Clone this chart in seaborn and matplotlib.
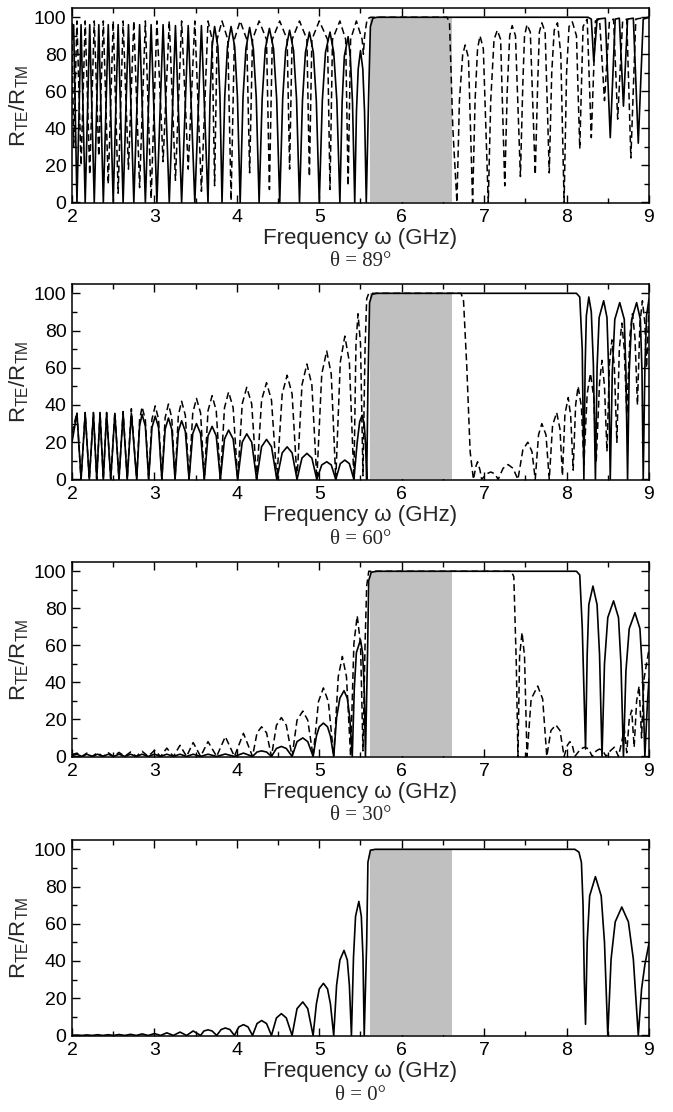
import matplotlib
matplotlib.use("Agg")
import matplotlib.pyplot as plt
from matplotlib.ticker import MultipleLocator
import pandas as pd
import seaborn as sns

# ---------------- data (frequency GHz, R_TE/R_TM) ----------------
theta89_solid = [
    (2.00, 90), (2.02, 96), (2.06, 0), (2.11, 96), (2.16, 0), (2.215, 96), (2.27, 0), (2.325, 96),
    (2.38, 0), (2.44, 96), (2.50, 0), (2.56, 96), (2.62, 0), (2.685, 96), (2.75, 0), (2.82, 96),
    (2.89, 0), (2.96, 96), (3.03, 0), (3.105, 96), (3.18, 0), (3.255, 95.5), (3.33, 0), (3.41, 95.5),
    (3.49, 0), (3.57, 95.5), (3.65, 0),
    (3.675, 57), (3.70, 84), (3.73, 95), (3.77, 84), (3.795, 57), (3.82, 0),
    (3.853, 57), (3.886, 84), (3.93, 95), (3.974, 84), (4.007, 57), (4.04, 0),
    (4.075, 57), (4.11, 83), (4.155, 94.5), (4.20, 83), (4.235, 57), (4.27, 0),
    (4.307, 56), (4.345, 83), (4.395, 94), (4.445, 83), (4.483, 56), (4.52, 0),
    (4.556, 56), (4.592, 82), (4.64, 93), (4.688, 82), (4.724, 56), (4.76, 0),
    (4.796, 55), (4.832, 81), (4.88, 92), (4.928, 81), (4.964, 55), (5.00, 0),
    (5.037, 55), (5.075, 81), (5.13, 92), (5.175, 81), (5.213, 55), (5.25, 0),
    (5.277, 54), (5.304, 79), (5.35, 89.5), (5.376, 79), (5.403, 54), (5.43, 0),
    (5.451, 49), (5.472, 72), (5.50, 82), (5.528, 72), (5.549, 49), (5.57, 0),
    (5.60, 60), (5.62, 95), (5.65, 99.5), (5.70, 100), (8.26, 100), (8.30, 99), (8.33, 76), (8.37, 99),
    (8.47, 99.5), (8.53, 35), (8.59, 99), (8.64, 99.5), (8.69, 52), (8.74, 99), (8.81, 99.5),
    (8.87, 32), (8.93, 99), (9.00, 100),
]
theta89_dashed = [
    (2.00, 97), (2.02, 30), (2.06, 98), (2.11, 20), (2.16, 98), (2.215, 15), (2.27, 98), (2.325, 25),
    (2.38, 98), (2.44, 10), (2.50, 98), (2.56, 5), (2.62, 98), (2.685, 18), (2.75, 98), (2.82, 8),
    (2.89, 98), (2.96, 2), (3.03, 98), (3.105, 22), (3.18, 98), (3.255, 12), (3.33, 98), (3.41, 18),
    (3.49, 98), (3.57, 6), (3.65, 98), (3.70, 88), (3.73, 9), (3.76, 88), (3.82, 98),
    (3.89, 88), (3.93, 1), (3.97, 88), (4.04, 98), (4.12, 88), (4.155, 16), (4.19, 88), (4.27, 98),
    (4.36, 88), (4.395, 7), (4.43, 88), (4.52, 98), (4.61, 88), (4.64, 18), (4.67, 88), (4.76, 98),
    (4.85, 88), (4.88, 14), (4.91, 88), (5.00, 98), (5.10, 88), (5.13, 7), (5.16, 88), (5.25, 98),
    (5.32, 88), (5.35, 9), (5.38, 88), (5.45, 98), (5.52, 88), (5.535, 80), (5.55, 90), (5.58, 99),
    (5.62, 100), (6.55, 100), (6.58, 97), (6.62, 40), (6.67, 0),
    (6.70, 55), (6.74, 80), (6.77, 85), (6.81, 78), (6.86, 0), (6.89, 55), (6.92, 83), (6.95, 90),
    (6.99, 83), (7.05, 0), (7.08, 55), (7.12, 88), (7.16, 93), (7.20, 88), (7.25, 9), (7.28, 60),
    (7.31, 90), (7.34, 95.5), (7.38, 90), (7.44, 14), (7.47, 65), (7.49, 90), (7.52, 96), (7.56, 92),
    (7.62, 15), (7.65, 65), (7.67, 92), (7.70, 97), (7.74, 92), (7.79, 16), (7.82, 70), (7.85, 93),
    (7.89, 97), (7.93, 80), (7.97, 0), (8.00, 70), (8.03, 95), (8.07, 97.5), (8.12, 90), (8.16, 29),
    (8.20, 95), (8.25, 99), (8.30, 35), (8.35, 98), (8.40, 99), (8.46, 55), (8.52, 98), (8.57, 99),
    (8.62, 45), (8.68, 98), (8.73, 99), (8.78, 24), (8.84, 99), (8.90, 99.5), (9.00, 100),
]

theta60_solid = [
    (2.00, 20), (2.06, 35.5), (2.11, 0), (2.16, 35.5), (2.21, 0), (2.26, 35.5), (2.30, 0), (2.34, 35.5),
    (2.38, 0), (2.42, 35.5), (2.47, 0), (2.52, 35.5), (2.57, 0), (2.62, 35.5), (2.67, 0), (2.72, 35.5),
    (2.785, 0), (2.82, 28.7), (2.85, 35), (2.89, 28.7), (2.93, 0), (2.97, 27.9), (3.01, 34),
    (3.05, 27.9), (3.09, 0), (3.13, 27), (3.17, 33), (3.21, 27), (3.25, 0), (3.29, 25.8),
    (3.33, 31.5), (3.375, 25.8), (3.42, 0), (3.465, 24.6), (3.51, 30), (3.56, 24.6), (3.605, 0),
    (3.65, 23.4), (3.70, 28.5), (3.75, 23.4), (3.80, 0), (3.85, 21.7), (3.90, 26.5), (3.955, 21.7),
    (4.01, 0), (4.065, 20), (4.12, 24.5), (4.18, 20), (4.24, 0), (4.30, 17.6), (4.36, 21.5),
    (4.42, 17.6), (4.485, 0), (4.55, 14.3), (4.61, 17.5), (4.67, 14.3), (4.73, 0), (4.79, 11.5),
    (4.85, 14), (4.91, 11.5), (4.97, 0), (5.03, 7.8), (5.09, 9.5), (5.145, 7.8), (5.20, 0),
    (5.255, 8.5), (5.31, 10.4), (5.365, 8.5), (5.42, 0), (5.46, 20), (5.49, 31), (5.52, 34.5),
    (5.545, 30), (5.562, 18), (5.575, 0), (5.59, 50), (5.61, 95), (5.64, 99.5), (5.70, 100),
    (8.12, 100), (8.16, 98), (8.19, 70), (8.21, 0),
    (8.225, 60), (8.24, 88), (8.27, 98), (8.30, 90), (8.325, 62), (8.35, 0),
    (8.37, 60), (8.395, 87), (8.45, 96), (8.49, 87), (8.51, 60), (8.53, 0),
    (8.555, 58), (8.585, 86), (8.645, 95), (8.70, 86), (8.72, 58), (8.74, 0),
    (8.76, 58), (8.79, 86), (8.85, 95), (8.895, 86), (8.915, 58), (8.93, 0),
    (8.95, 60), (8.97, 88), (9.00, 97),
]
theta60_dashed = [
    (2.00, 25), (2.06, 36), (2.11, 0), (2.16, 36), (2.21, 0), (2.26, 36), (2.30, 0), (2.34, 36),
    (2.38, 0), (2.42, 36), (2.47, 0), (2.52, 36), (2.57, 0), (2.62, 36.5), (2.67, 0), (2.72, 38),
    (2.785, 0), (2.82, 32), (2.85, 39), (2.89, 32), (2.93, 0), (2.97, 32.4), (3.01, 39.5), (3.05, 32.4),
    (3.09, 0), (3.13, 33.2), (3.17, 40.5), (3.21, 33.2), (3.25, 0), (3.29, 34.4), (3.33, 42),
    (3.375, 34.4), (3.42, 0), (3.465, 35.7), (3.51, 43.5), (3.56, 35.7), (3.605, 0), (3.65, 36.9),
    (3.70, 45), (3.75, 36.9), (3.80, 0), (3.85, 38.5), (3.90, 47), (3.955, 38.5), (4.01, 0),
    (4.065, 40.6), (4.12, 49.5), (4.18, 40.6), (4.24, 0), (4.30, 42.6), (4.36, 52), (4.42, 42.6),
    (4.485, 0), (4.55, 45.9), (4.61, 56), (4.67, 45.9), (4.73, 0), (4.79, 50.8), (4.85, 62),
    (4.91, 50.8), (4.97, 0), (5.03, 56.6), (5.09, 69), (5.145, 56.6), (5.20, 0), (5.255, 63.1),
    (5.31, 77), (5.365, 63.1), (5.42, 0), (5.445, 73), (5.47, 89), (5.50, 73), (5.53, 2),
    (5.555, 70), (5.575, 97), (5.60, 100),
    (6.72, 100), (6.75, 96), (6.79, 60), (6.83, 15), (6.87, 0), (6.90, 7), (6.92, 9.5), (6.95, 5),
    (6.97, 0), (7.03, 3), (7.08, 4), (7.13, 3), (7.17, 0), (7.23, 6), (7.29, 8), (7.35, 6), (7.41, 0),
    (7.47, 16), (7.53, 20), (7.58, 15), (7.62, 0), (7.66, 24), (7.70, 30), (7.75, 24), (7.79, 0),
    (7.83, 29), (7.88, 36), (7.92, 27), (7.95, 2), (7.98, 35), (8.02, 44), (8.05, 34), (8.08, 5),
    (8.11, 40), (8.14, 50), (8.18, 39), (8.21, 8), (8.25, 46), (8.29, 57), (8.33, 44), (8.36, 10),
    (8.40, 52), (8.43, 64), (8.46, 50), (8.49, 15), (8.52, 62), (8.55, 75), (8.58, 60), (8.61, 20),
    (8.64, 70), (8.67, 84), (8.70, 70), (8.73, 35), (8.77, 78), (8.80, 89), (8.83, 76), (8.86, 40),
    (8.89, 84), (8.92, 96), (8.95, 84), (8.97, 60), (9.00, 92),
]

theta30_solid = [
    (2.00, 0.5), (2.06, 1.2), (2.12, 0), (2.18, 1.2), (2.245, 0), (2.31, 1.2), (2.375, 0), (2.44, 1.2),
    (2.505, 0), (2.57, 1.2), (2.64, 0), (2.71, 1.2), (2.78, 0), (2.85, 1.2), (2.925, 0), (3.00, 1.2),
    (3.075, 0), (3.15, 1.2), (3.23, 0), (3.31, 1.2), (3.39, 0), (3.47, 1.2), (3.56, 0), (3.65, 1.2),
    (3.755, 0), (3.86, 1.3), (3.97, 0), (4.08, 1.8), (4.19, 0), (4.245, 2.4), (4.30, 3), (4.36, 2.4),
    (4.42, 0), (4.48, 4.3), (4.54, 5.4), (4.60, 4.3), (4.67, 0), (4.73, 8), (4.80, 10), (4.86, 8),
    (4.925, 0), (4.965, 11), (5.00, 16), (5.05, 18), (5.10, 16), (5.135, 11), (5.175, 0),
    (5.21, 21), (5.25, 31.5), (5.30, 35.5), (5.34, 31.5), (5.37, 21), (5.40, 0),
    (5.425, 37), (5.45, 56), (5.50, 63), (5.525, 56), (5.545, 37), (5.56, 0),
    (5.585, 55), (5.60, 95), (5.63, 99.5), (5.70, 100), (8.12, 100), (8.16, 98), (8.19, 70), (8.23, 4),
    (8.25, 55), (8.27, 82), (8.32, 92), (8.37, 82), (8.40, 55), (8.43, 0),
    (8.46, 50), (8.50, 75), (8.57, 84), (8.63, 75), (8.66, 50), (8.69, 0),
    (8.72, 46), (8.76, 69), (8.83, 77.6), (8.89, 69), (8.92, 46), (8.95, 0),
    (8.98, 28), (9.00, 42),
]
theta30_dashed = [
    (2.00, 1.0), (2.06, 1.8), (2.12, 0), (2.18, 1.8), (2.245, 0), (2.31, 2.0), (2.375, 0), (2.44, 2.0),
    (2.505, 0), (2.57, 2.2), (2.64, 0), (2.71, 2.4), (2.78, 0), (2.85, 2.8), (2.925, 0), (3.00, 3.3),
    (3.075, 0), (3.15, 4.5), (3.23, 0), (3.31, 6), (3.39, 0), (3.47, 7.5), (3.56, 0), (3.65, 8),
    (3.755, 0), (3.86, 10.7), (3.97, 0), (4.08, 12.5), (4.19, 0), (4.245, 12.8), (4.30, 16),
    (4.36, 12.8), (4.42, 0), (4.48, 16.8), (4.54, 21), (4.60, 16.8), (4.67, 0), (4.73, 19.6),
    (4.80, 24.5), (4.86, 19.6), (4.925, 0), (4.99, 29.6), (5.05, 37), (5.11, 29.6), (5.175, 0),
    (5.23, 43), (5.28, 54), (5.33, 43), (5.38, 0), (5.42, 61), (5.46, 76), (5.50, 61), (5.53, 3),
    (5.555, 60), (5.575, 92), (5.60, 100), (7.33, 100), (7.36, 97), (7.39, 50), (7.41, 0),
    (7.43, 54), (7.46, 67), (7.49, 54), (7.52, 0), (7.57, 31), (7.65, 38), (7.71, 31), (7.76, 0),
    (7.81, 14), (7.87, 17), (7.92, 14), (7.97, 0), (8.01, 6), (8.04, 8), (8.07, 6), (8.10, 0),
    (8.17, 4), (8.22, 5), (8.27, 4), (8.31, 0), (8.36, 3), (8.40, 4), (8.44, 3), (8.48, 0), (8.53, 3),
    (8.58, 5), (8.63, 0), (8.67, 8), (8.70, 15), (8.73, 2), (8.76, 20), (8.79, 25), (8.82, 5),
    (8.85, 30), (8.88, 38), (8.91, 10), (8.94, 42), (8.97, 50), (9.00, 58),
]

theta0_solid = [
    (2.00, 0.1), (2.06, 0.2), (2.12, 0), (2.18, 0.3), (2.245, 0), (2.31, 0.4), (2.375, 0), (2.44, 0.4),
    (2.505, 0), (2.57, 0.5), (2.64, 0), (2.71, 0.6), (2.78, 0), (2.85, 0.8), (2.925, 0), (3.00, 1.0),
    (3.075, 0), (3.15, 1.4), (3.23, 0), (3.31, 1.8), (3.39, 0), (3.47, 2.4), (3.56, 0), (3.60, 2.4),
    (3.65, 3.0), (3.70, 2.4), (3.755, 0), (3.81, 3.2), (3.86, 4.0), (3.915, 3.2), (3.97, 0),
    (4.025, 4.6), (4.08, 5.8), (4.135, 4.6), (4.19, 0), (4.245, 6.4), (4.30, 8), (4.36, 6.4),
    (4.42, 0), (4.48, 9.4), (4.54, 11.7), (4.60, 9.4), (4.67, 0), (4.73, 14.4), (4.80, 18),
    (4.86, 14.4), (4.925, 0),
    (4.965, 17), (5.00, 25), (5.05, 28), (5.10, 25), (5.135, 17), (5.175, 0),
    (5.21, 27), (5.25, 40.5), (5.30, 45.7), (5.34, 40.5), (5.365, 27), (5.39, 0),
    (5.415, 42), (5.44, 64), (5.48, 72), (5.51, 64), (5.53, 42), (5.545, 0),
    (5.575, 50), (5.59, 93), (5.62, 99.5), (5.68, 100), (8.10, 100), (8.15, 98.5), (8.18, 93),
    (8.20, 70), (8.215, 30), (8.23, 6),
    (8.25, 50), (8.28, 75), (8.35, 85.3), (8.42, 75), (8.46, 50), (8.50, 0),
    (8.54, 41), (8.59, 61), (8.67, 69), (8.75, 61), (8.81, 41), (8.87, 0),
    (8.91, 25), (8.95, 38), (9.00, 49.5),
]

panel_angles = ["89", "60", "30", "0"]
band_gap = (5.62, 6.61)
x_ticks = [2, 3, 4, 5, 6, 7, 8, 9]
y_ticks = [0, 20, 40, 60, 80, 100]

# ---------------- styling ----------------
sns.set_style("ticks")
plt.rcParams["font.family"] = ["Liberation Sans Narrow", "Liberation Sans", "DejaVu Sans"]
plt.rcParams.update({
    "mathtext.fontset": "custom",
    "mathtext.rm": "Liberation Sans",
    "mathtext.it": "Liberation Sans:italic",
    "mathtext.bf": "Liberation Sans:bold",
    "axes.linewidth": 1.1,
})

W, H = 673, 1112
fig = plt.figure(figsize=(W / 100, H / 100), dpi=100)

left_px, right_px = 72, 649
frames = [(8, 203), (284, 480), (562, 757), (840, 1036)]
curves = [
    (theta89_solid, theta89_dashed),
    (theta60_solid, theta60_dashed),
    (theta30_solid, theta30_dashed),
    (theta0_solid, None),
]

for (top, bot), (solid, dashed), ang in zip(frames, curves, panel_angles):
    ax = fig.add_axes([left_px / W, 1 - bot / H, (right_px - left_px) / W, (bot - top) / H])
    ax.fill_between(list(band_gap), 0, 100, color="#c0c0c0", lw=0, zorder=1)
    if dashed is not None:
        dfd = pd.DataFrame(dashed, columns=["f", "R"])
        sns.lineplot(data=dfd, x="f", y="R", sort=False, estimator=None, color="black",
                     lw=1.1, linestyle=(0, (4.5, 2.5)), ax=ax, zorder=3)
    dfs = pd.DataFrame(solid, columns=["f", "R"])
    sns.lineplot(data=dfs, x="f", y="R", sort=False, estimator=None, color="black",
                 lw=1.2, ax=ax, zorder=4)
    ax.set_xlim(2, 9)
    ax.set_ylim(-0.3, 105)
    ax.set_xticks(x_ticks)
    ax.set_yticks(y_ticks)
    ax.xaxis.set_minor_locator(MultipleLocator(0.5))
    ax.yaxis.set_minor_locator(MultipleLocator(10))
    ax.tick_params(which="both", direction="in", top=True, right=True, width=1.0,
                   labelsize=14, colors="black")
    ax.tick_params(which="major", length=6, pad=4)
    ax.tick_params(which="minor", length=3.5)
    for s in ax.spines.values():
        s.set_color("black")
        s.set_zorder(5)
    ax.set_xlabel("Frequency ω (GHz)", fontsize=16, labelpad=2)
    ax.set_ylabel(r"$\mathrm{R_{TE}/R_{TM}}$", fontsize=16, labelpad=2)
    fig.text((left_px + right_px) / 2 / W, 1 - (bot + 59) / H, "θ = " + ang + "°",
             ha="center", va="center", fontsize=15, family=["Liberation Serif", "DejaVu Serif"])

fig.savefig("out.png", dpi=100)
